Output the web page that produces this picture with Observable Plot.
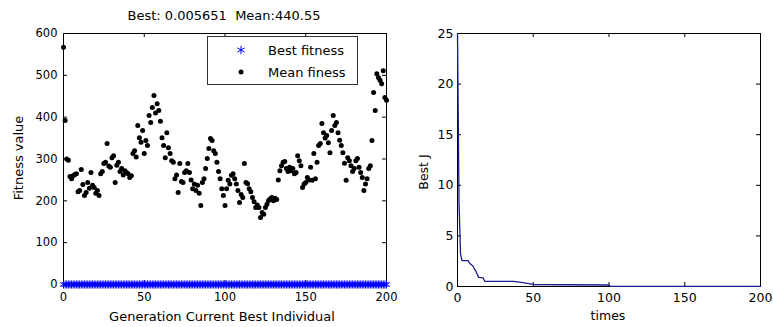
<!DOCTYPE html>
<html><head><meta charset="utf-8">
<script src="https://cdn.jsdelivr.net/npm/d3@7"></script>
<script src="https://cdn.jsdelivr.net/npm/@observablehq/plot@0.6"></script>
<style>
html,body{margin:0;padding:0;background:#fff;}
#wrap{position:relative;width:773px;height:327px;overflow:hidden;font-family:"DejaVu Sans",sans-serif;color:#000;background:#fff;}
.lbl{position:absolute;white-space:pre;transform:translate(-50%,-50%);line-height:1;}
.plotbox{position:absolute;top:0;}
</style></head><body>
<div id="wrap"></div>
<script>
// ---------- data ----------
const titleText = "Best: 0.005651  Mean:440.55";
const meanFitness = [
567,392,300,297,258,253,260,263,265,222,
225,275,239,213,220,244,230,268,237,232,
218,225,213,265,270,289,292,337,283,280,
303,308,244,285,292,270,277,262,272,268,
265,256,260,313,320,305,380,351,340,368,
313,344,332,404,387,423,452,410,432,416,
390,351,332,303,363,327,313,296,292,253,
262,220,289,246,244,268,272,289,268,250,
229,240,225,237,218,189,244,253,277,301,
325,349,344,320,313,292,270,253,229,213,
189,229,249,240,261,265,253,240,225,196,
215,208,289,244,241,229,222,208,198,184,
190,184,160,172,168,184,192,201,205,208,
200,206,203,250,272,284,292,294,277,270,
280,272,277,265,268,308,296,284,232,240,
244,256,250,280,249,313,253,292,332,337,
385,363,350,356,339,315,368,404,380,387,
363,345,332,315,290,249,303,296,284,270,
277,296,301,280,268,256,225,240,253,277,
284,344,459,416,504,495,488,480,511,447,
440.55];
const bestFitnessValue = 0.005651;
const genTicks = [0, 50, 100, 150, 200];
const fitTicks = [0, 100, 200, 300, 400, 500, 600];

const times = [0, 1, 2, 3, 7, 8, 10, 12, 13, 14, 17, 18, 37, 42, 48, 50, 100, 101, 200];
const bestJ = [25, 8.3, 3.2, 2.55, 2.55, 2.3, 2.05, 1.55, 1.2, 0.9, 0.85, 0.5, 0.5, 0.4, 0.25, 0.2, 0.15, 0.0057, 0.0057];
const timeTicks = [0, 50, 100, 150, 200];
const jTicks = [0, 5, 10, 15, 20, 25];

// ---------- build ----------
const wrap = document.getElementById("wrap");
const H = 327;

function framedPlot({width, mL, mR, mT, mB, xDomain, yDomain, xTicks, yTicks, marks, fontSize, xPad, yPad}) {
  const innerW = width - mL - mR, innerH = H - mT - mB;
  return Plot.plot({
    width, height: H, marginLeft: mL, marginRight: mR, marginTop: mT, marginBottom: mB,
    style: {fontFamily: "DejaVu Sans, sans-serif", fontSize: fontSize, color: "#000", background: "transparent", overflow: "visible"},
    x: {domain: xDomain},
    y: {domain: yDomain},
    marks: [
      Plot.frame({stroke: "#000", strokeWidth: 1}),
      Plot.tickX(xTicks, {x: d => d, insetTop: innerH - 4, stroke: "#000"}),
      Plot.tickX(xTicks, {x: d => d, insetBottom: innerH - 4, stroke: "#000"}),
      Plot.tickY(yTicks, {y: d => d, insetRight: innerW - 4, stroke: "#000"}),
      Plot.tickY(yTicks, {y: d => d, insetLeft: innerW - 4, stroke: "#000"}),
      Plot.axisX(xTicks, {tickSize: 0, tickPadding: xPad, label: null, fill: "#000"}),
      Plot.axisY(yTicks, {tickSize: 0, tickPadding: yPad, label: null, fill: "#000"}),
      ...marks
    ]
  });
}

const leftData = meanFitness.map((m, i) => ({gen: i, mean: m, best: bestFitnessValue}));
const left = framedPlot({
  width: 400, mL: 63, mR: 14, mT: 33, mB: 43,
  xDomain: [0, 200], yDomain: [0, 600], xTicks: genTicks, yTicks: fitTicks,
  fontSize: "11.5px", xPad: 8, yPad: 6,
  marks: [
    Plot.dot(leftData, {x: "gen", y: "best", symbol: "asterisk", stroke: "#0000ff", strokeWidth: 1, r: 3.8}),
    Plot.dot(leftData, {x: "gen", y: "mean", fill: "#000", stroke: null, r: 2.5})
  ]
});
left.classList.add("plotbox");
left.style.left = "0px";
wrap.appendChild(left);

const rightData = times.map((t, i) => ({t, j: bestJ[i]}));
const right = framedPlot({
  width: 373, mL: 57, mR: 13, mT: 33, mB: 41,
  xDomain: [0, 200], yDomain: [0, 25], xTicks: timeTicks, yTicks: jTicks,
  fontSize: "12.5px", xPad: 7, yPad: 4,
  marks: [
    Plot.line(rightData, {x: "t", y: "j", stroke: "#1c1c8e", strokeWidth: 1.3})
  ]
});
right.classList.add("plotbox");
right.style.left = "400px";
wrap.appendChild(right);

// ---------- texts ----------
function label(text, x, y, size, rotate) {
  const d = document.createElement("div");
  d.className = "lbl";
  d.textContent = text;
  d.style.left = x + "px";
  d.style.top = y + "px";
  d.style.fontSize = size + "px";
  if (rotate) d.style.transform = "translate(-50%,-50%) rotate(-90deg)";
  wrap.appendChild(d);
}
label(titleText, 224, 15, 13);
label("Fitness value", 18, 158, 13, true);
label("Generation Current Best Individual", 222, 316, 13);
label("Best J", 424, 172, 12.5, true);
label("times", 608, 316, 12.5);

// ---------- legend ----------
const lg = d3.create("svg")
  .attr("width", 152).attr("height", 50)
  .style("position", "absolute").style("left", "207px").style("top", "36px")
  .style("overflow", "visible");
lg.append("rect").attr("x", 0.5).attr("y", 0.5).attr("width", 150).attr("height", 48)
  .attr("fill", "#fff").attr("stroke", "#333");
lg.append("path").attr("transform", "translate(34,14)")
  .attr("d", d3.symbol(d3.symbolAsterisk, 50)())
  .attr("fill", "none").attr("stroke", "#0000ff");
lg.append("circle").attr("cx", 34).attr("cy", 36).attr("r", 2.5).attr("fill", "#000");
lg.append("text").attr("x", 61).attr("y", 14).attr("dy", "0.35em")
  .attr("font-size", 13).attr("font-family", "DejaVu Sans, sans-serif").text("Best fitness");
lg.append("text").attr("x", 61).attr("y", 36).attr("dy", "0.35em")
  .attr("font-size", 13).attr("font-family", "DejaVu Sans, sans-serif").text("Mean finess");
wrap.appendChild(lg.node());
</script>
</body></html>
